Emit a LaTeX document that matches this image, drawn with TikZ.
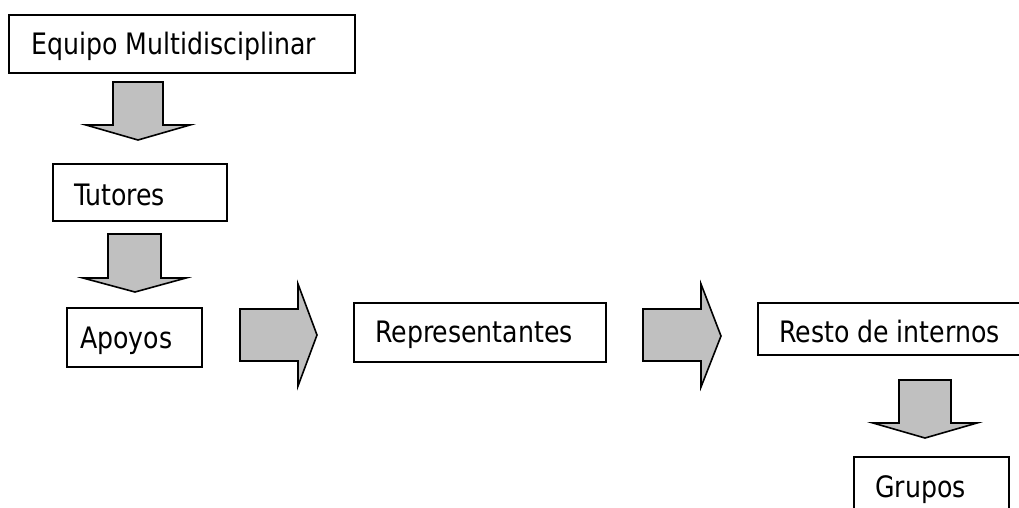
\documentclass[tikz,border=0pt]{standalone}
\usepackage{fontspec}
\setmainfont{DejaVu Sans Condensed}[FakeStretch=0.95]
\begin{document}
\begin{tikzpicture}[x=1pt,y=-1pt,
  boxst/.style={draw=black,line width=1.6pt,fill=white},
  blockarrow/.style={draw=black,line width=1.6pt,fill=arrowgray,line join=miter},
  lbl/.style={anchor=base west,inner sep=0pt,font=\fontsize{29.5}{34}\selectfont}]
\definecolor{arrowgray}{HTML}{C0C0C0}
\useasboundingbox (0,0) rectangle (1019,507);
\clip (0,0) rectangle (1019,507);
% boxes
\draw[boxst] (9,15) rectangle (355,73);
\draw[boxst] (53,164) rectangle (227,221);
\draw[boxst] (67,308) rectangle (202,367);
\draw[boxst] (354,303) rectangle (606,362);
\draw[boxst] (758,303) rectangle (1030,355);
\draw[boxst] (854,457) rectangle (1009,520);
% labels
\node[lbl] (t1) at (31,54) {Equipo Multidisciplinar};
\node[lbl] (t2) at (74,205) {Tutores};
\node[lbl] (t3) at (80,348) {Apoyos};
\node[lbl] (t4) at (375,342) {Representantes};
\node[lbl] (t5) at (779,342) {Resto de internos};
\node[lbl] (t6) at (875,497) {Grupos};
% block arrows
\draw[blockarrow] (113,82) -- (163,82) -- (163,125) -- (190,125) -- (138,140) -- (86,125) -- (113,125) -- cycle;
\draw[blockarrow] (108,234) -- (161,234) -- (161,278) -- (186,278) -- (135,292) -- (83,278) -- (108,278) -- cycle;
\draw[blockarrow] (240,309) -- (298,309) -- (298,284) -- (317,335) -- (298,386) -- (298,361) -- (240,361) -- cycle;
\draw[blockarrow] (643,309) -- (701,309) -- (701,284) -- (721,336) -- (701,387) -- (701,361) -- (643,361) -- cycle;
\draw[blockarrow] (899,380) -- (951,380) -- (951,423) -- (977,423) -- (925,438) -- (873,423) -- (899,423) -- cycle;
\end{tikzpicture}
\end{document}
